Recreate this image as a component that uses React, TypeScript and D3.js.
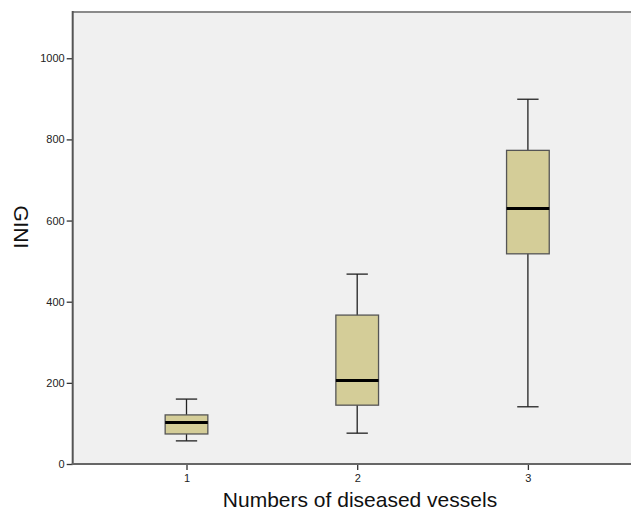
// @ts-nocheck
import { useRef, useEffect } from "react";
import * as d3 from "d3";

const categories = ["1", "2", "3"];
const whiskerLow = [57, 76, 141];
const q1 = [74, 145, 518];
const median = [102, 206, 630];
const q3 = [121, 367, 773];
const whiskerHigh = [160, 468, 899];
const yTicks = [0, 200, 400, 600, 800, 1000];

const BoxPlot = () => {
  const ref = useRef(null);

  useEffect(() => {
    const svg = d3.select(ref.current);
    svg.selectAll("*").remove();

    const left = 72.7;
    const right = 641.7;
    const top = 12;
    const bottom = 464;

    const x = d3.scalePoint().domain(categories).range([left, right]).padding(2 / 3);
    const y = d3.scaleLinear().domain([0, 1114]).range([bottom, top]);
    const boxW = x.step() * 0.25;
    const capW = boxW / 2;

    // plot background
    svg
      .append("rect")
      .attr("x", left)
      .attr("y", top)
      .attr("width", right - left + 20)
      .attr("height", bottom - top)
      .attr("fill", "#f0f0f0");

    svg
      .append("line")
      .attr("x1", left)
      .attr("x2", right + 20)
      .attr("y1", top)
      .attr("y2", top)
      .attr("stroke", "#8a8a8a")
      .attr("stroke-width", 2);

    const data = categories.map((c, i) => ({
      c,
      lo: whiskerLow[i],
      q1: q1[i],
      med: median[i],
      q3: q3[i],
      hi: whiskerHigh[i],
    }));

    const g = svg.append("g").selectAll("g").data(data).join("g");

    g.append("line")
      .attr("x1", (d) => x(d.c))
      .attr("x2", (d) => x(d.c))
      .attr("y1", (d) => y(d.hi))
      .attr("y2", (d) => y(d.lo))
      .attr("stroke", "#222")
      .attr("stroke-width", 1.3);

    g.append("line")
      .attr("x1", (d) => x(d.c) - capW / 2)
      .attr("x2", (d) => x(d.c) + capW / 2)
      .attr("y1", (d) => y(d.hi))
      .attr("y2", (d) => y(d.hi))
      .attr("stroke", "#222")
      .attr("stroke-width", 1.3);

    g.append("line")
      .attr("x1", (d) => x(d.c) - capW / 2)
      .attr("x2", (d) => x(d.c) + capW / 2)
      .attr("y1", (d) => y(d.lo))
      .attr("y2", (d) => y(d.lo))
      .attr("stroke", "#222")
      .attr("stroke-width", 1.3);

    g.append("rect")
      .attr("x", (d) => x(d.c) - boxW / 2)
      .attr("y", (d) => y(d.q3))
      .attr("width", boxW)
      .attr("height", (d) => y(d.q1) - y(d.q3))
      .attr("fill", "#d4cd98")
      .attr("stroke", "#555")
      .attr("stroke-width", 1.3);

    g.append("line")
      .attr("x1", (d) => x(d.c) - boxW / 2)
      .attr("x2", (d) => x(d.c) + boxW / 2)
      .attr("y1", (d) => y(d.med))
      .attr("y2", (d) => y(d.med))
      .attr("stroke", "#000")
      .attr("stroke-width", 3);

    // y axis
    const yAxis = svg
      .append("g")
      .attr("transform", `translate(${left},0)`)
      .call(d3.axisLeft(y).tickValues(yTicks).tickSize(6).tickPadding(2).tickFormat(d3.format("d")));
    yAxis.select(".domain").remove();
    yAxis.selectAll(".tick line").attr("stroke", "#333").attr("stroke-width", 1.3);
    yAxis
      .selectAll(".tick text")
      .attr("fill", "#222")
      .style("font-family", "Liberation Sans, Arial, sans-serif")
      .style("font-size", "11px");

    // x axis
    const xAxis = svg
      .append("g")
      .attr("transform", `translate(0,${bottom})`)
      .call(d3.axisBottom(x).tickSize(6).tickPadding(4));
    xAxis.select(".domain").remove();
    xAxis.selectAll(".tick line").attr("stroke", "#333").attr("stroke-width", 1.3);
    xAxis
      .selectAll(".tick text")
      .attr("fill", "#222")
      .style("font-family", "Liberation Sans, Arial, sans-serif")
      .style("font-size", "11px");

    svg
      .append("line")
      .attr("x1", left)
      .attr("x2", left)
      .attr("y1", top - 1)
      .attr("y2", bottom + 1)
      .attr("stroke", "#555")
      .attr("stroke-width", 2);

    svg
      .append("line")
      .attr("x1", left - 1)
      .attr("x2", right + 20)
      .attr("y1", bottom)
      .attr("y2", bottom)
      .attr("stroke", "#666")
      .attr("stroke-width", 2);

    svg
      .append("text")
      .attr("x", 360)
      .attr("y", 507)
      .attr("text-anchor", "middle")
      .attr("fill", "#111")
      .style("font-family", "Liberation Sans, Arial, sans-serif")
      .style("font-size", "21px")
      .text("Numbers of diseased vessels");

    svg
      .append("text")
      .attr("transform", "translate(14,227) rotate(90)")
      .attr("text-anchor", "middle")
      .attr("fill", "#111")
      .style("font-family", "Liberation Sans, Arial, sans-serif")
      .style("font-size", "21px")
      .text("GINI");
  }, []);

  return <svg ref={ref} width={631} height={512} style={{ display: "block", overflow: "hidden" }}></svg>;
};

export default function App() {
  return (
    <div style={{ position: "fixed", left: 0, top: 0, width: 631, height: 512, background: "#fff" }}>
      <BoxPlot />
    </div>
  );
}
